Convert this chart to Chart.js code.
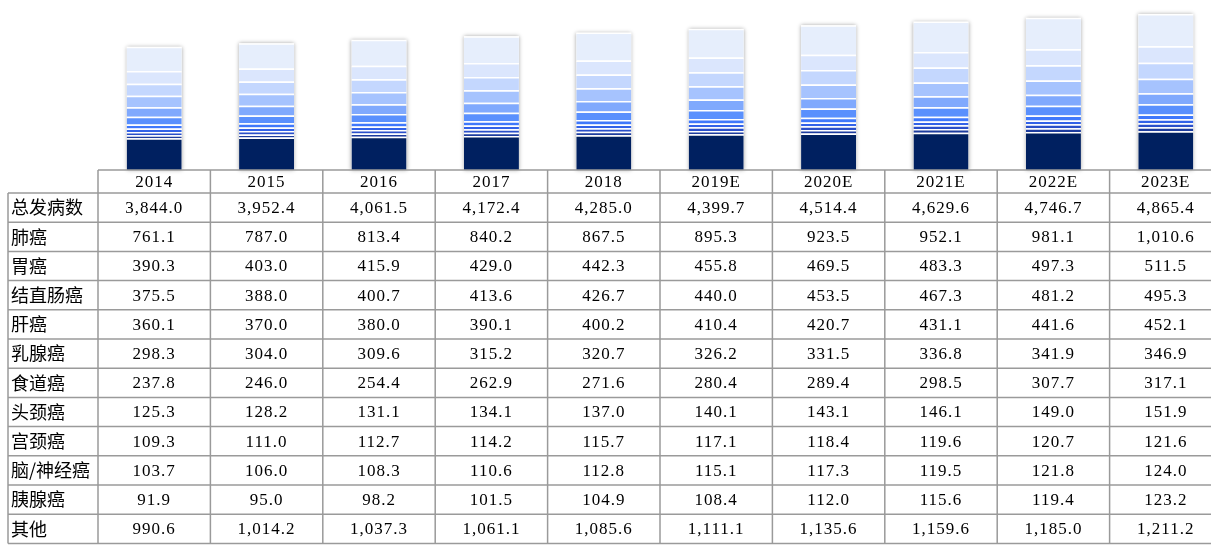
<!DOCTYPE html>
<html>
<head>
<meta charset="utf-8">
<script src="https://cdn.jsdelivr.net/npm/chart.js@4/dist/chart.umd.min.js"></script>
<style>
  html, body { margin: 0; padding: 0; background: #fff; overflow: hidden; }
  #wrap { width: 1222px; height: 546px; position: relative; }
</style>
</head>
<body>
<div id="wrap"><canvas id="chart"></canvas></div>
<script>
// years across the top of the table
const years = ["2014", "2015", "2016", "2017", "2018", "2019E", "2020E", "2021E", "2022E", "2023E"];

// total incidence (table only)
const total = [3844.0, 3952.4, 4061.5, 4172.4, 4285.0, 4399.7, 4514.4, 4629.6, 4746.7, 4865.4];

// series, in table order
const lung = [761.1, 787.0, 813.4, 840.2, 867.5, 895.3, 923.5, 952.1, 981.1, 1010.6];
const stomach = [390.3, 403.0, 415.9, 429.0, 442.3, 455.8, 469.5, 483.3, 497.3, 511.5];
const colorectal = [375.5, 388.0, 400.7, 413.6, 426.7, 440.0, 453.5, 467.3, 481.2, 495.3];
const liver = [360.1, 370.0, 380.0, 390.1, 400.2, 410.4, 420.7, 431.1, 441.6, 452.1];
const breast = [298.3, 304.0, 309.6, 315.2, 320.7, 326.2, 331.5, 336.8, 341.9, 346.9];
const esophagus = [237.8, 246.0, 254.4, 262.9, 271.6, 280.4, 289.4, 298.5, 307.7, 317.1];
const headNeck = [125.3, 128.2, 131.1, 134.1, 137.0, 140.1, 143.1, 146.1, 149.0, 151.9];
const cervical = [109.3, 111.0, 112.7, 114.2, 115.7, 117.1, 118.4, 119.6, 120.7, 121.6];
const brain = [103.7, 106.0, 108.3, 110.6, 112.8, 115.1, 117.3, 119.5, 121.8, 124.0];
const pancreas = [91.9, 95.0, 98.2, 101.5, 104.9, 108.4, 112.0, 115.6, 119.4, 123.2];
const other = [990.6, 1014.2, 1037.3, 1061.1, 1085.6, 1111.1, 1135.6, 1159.6, 1185.0, 1211.2];

// table rows
const rowLabels = ["总发病数", "肺癌", "胃癌", "结直肠癌", "肝癌", "乳腺癌", "食道癌", "头颈癌", "宫颈癌", "脑/神经癌", "胰腺癌", "其他"];
const rowValues = [total, lung, stomach, colorectal, liver, breast, esophagus, headNeck, cervical, brain, pancreas, other];

// stack order, bottom to top
const stack = [
  { label: "其他", data: other, color: "#002060" },
  { label: "胰腺癌", data: pancreas, color: "#1d3c9e" },
  { label: "脑/神经癌", data: brain, color: "#2a4fc9" },
  { label: "宫颈癌", data: cervical, color: "#3262e8" },
  { label: "头颈癌", data: headNeck, color: "#3f78fb" },
  { label: "食道癌", data: esophagus, color: "#5a90fd" },
  { label: "乳腺癌", data: breast, color: "#80a9fd" },
  { label: "肝癌", data: liver, color: "#a6c3fe" },
  { label: "结直肠癌", data: colorectal, color: "#c4d7fe" },
  { label: "胃癌", data: stomach, color: "#dbe6fd" },
  { label: "肺癌", data: lung, color: "#e6eefc" }
];

const fmt = v => v.toLocaleString("en-US", { minimumFractionDigits: 1, maximumFractionDigits: 1 });

const tableTop = 170;
const headerH = 23;
const rowH = 29.2;
const labelLeft = 8;

const barShadow = {
  id: "barShadow",
  beforeDatasetsDraw(chart) {
    const ctx = chart.ctx;
    const top = chart.getDatasetMeta(stack.length - 1).data;
    const base = chart.scales.y.getPixelForValue(0);
    ctx.save();
    ctx.fillStyle = "#fff";
    ctx.shadowColor = "rgba(0,0,0,0.35)";
    ctx.shadowBlur = 4;
    top.forEach(el => {
      ctx.fillRect(el.x - el.width / 2, el.y, el.width, base - el.y);
    });
    ctx.restore();
  }
};

const dataTable = {
  id: "dataTable",
  afterDraw(chart) {
    const ctx = chart.ctx;
    const x = chart.scales.x;
    const step = x.getPixelForValue(1) - x.getPixelForValue(0);
    const left = x.getPixelForValue(0) - step / 2;
    const right = x.getPixelForValue(years.length - 1) + step / 2;
    const bottom = tableTop + headerH + rowH * rowLabels.length;

    ctx.save();
    ctx.strokeStyle = "#9a9a9a";
    ctx.lineWidth = 1.5;
    ctx.beginPath();
    // horizontal lines
    ctx.moveTo(left, tableTop); ctx.lineTo(right, tableTop);
    for (let r = 0; r <= rowLabels.length; r++) {
      const y = tableTop + headerH + r * rowH;
      ctx.moveTo(labelLeft, y); ctx.lineTo(right, y);
    }
    // vertical lines
    ctx.moveTo(labelLeft, tableTop + headerH); ctx.lineTo(labelLeft, bottom);
    for (let c = 0; c <= years.length; c++) {
      const xx = left + c * step;
      ctx.moveTo(xx, tableTop); ctx.lineTo(xx, bottom);
    }
    ctx.stroke();

    ctx.fillStyle = "#000";
    ctx.textBaseline = "middle";
    ctx.textAlign = "center";
    ctx.font = "17px 'Liberation Serif', serif";
    ctx.letterSpacing = "1px";
    years.forEach((yr, i) => {
      ctx.fillText(yr, x.getPixelForValue(i), tableTop + headerH / 2 + 1);
    });

    rowValues.forEach((vals, r) => {
      const cy = tableTop + headerH + r * rowH + rowH / 2 + 1;
      vals.forEach((v, i) => {
        ctx.fillText(fmt(v), x.getPixelForValue(i), cy);
      });
    });

    ctx.letterSpacing = "0px";
    ctx.textAlign = "left";
    ctx.font = "18px 'Noto Sans CJK SC', sans-serif";
    rowLabels.forEach((lab, r) => {
      const cy = tableTop + headerH + r * rowH + rowH / 2;
      ctx.fillText(lab, labelLeft + 3, cy);
    });
    ctx.restore();
  }
};

chart = new Chart(document.getElementById("chart"), {
  type: "bar",
  data: {
    labels: years,
    datasets: stack.map(s => ({
      label: s.label,
      data: s.data,
      backgroundColor: s.color,
      borderColor: "#ffffff",
      borderWidth: { top: 1.5, left: 0, right: 0, bottom: 0 },
      borderSkipped: false,
      barPercentage: 0.49,
      categoryPercentage: 1
    }))
  },
  options: {
    responsive: true,
    maintainAspectRatio: false,
    animation: false,
    layout: { padding: { left: 98, right: 0, top: 0, bottom: 546 - tableTop } },
    plugins: { legend: { display: false }, tooltip: { enabled: false } },
    scales: {
      x: { stacked: true, display: false },
      y: { stacked: true, display: false, min: 0, max: 5300 }
    }
  },
  plugins: [barShadow, dataTable]
});
</script>
</body>
</html>
